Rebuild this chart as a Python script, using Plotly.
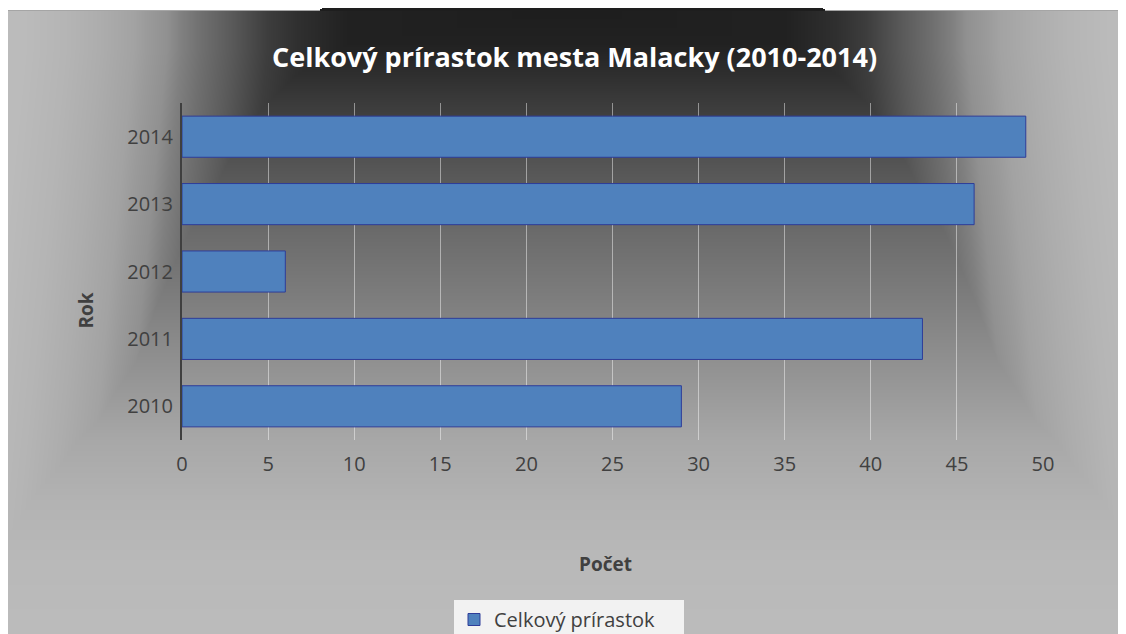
import base64
import struct
import zlib

import numpy as np
import plotly.graph_objects as go

# ---------------- data ----------------
years = ["2010", "2011", "2012", "2013", "2014"]
growth = [29, 43, 6, 46, 49]
series_name = "Celkový prírastok"
title_text = "Celkový prírastok mesta Malacky (2010-2014)"
x_title = "Počet"
y_title = "Rok"
x_ticks = [0, 5, 10, 15, 20, 25, 30, 35, 40, 45, 50]

# ---------------- geometry (screen px; page body has an 8px margin) ----------------
OX, OY = 8, 8
SW, SH = 1126, 634
W, H = SW - OX, SH - OY
PLOT_L, PLOT_R, PLOT_T, PLOT_B = 182, 1043, 103, 440
L, R = PLOT_L - OX, SW - PLOT_R
T, B = PLOT_T - OY, SH - PLOT_B
PW, PH = W - L - R, H - T - B


def px(x):
    return (x - PLOT_L) / PW


def py(y):
    return (PLOT_B - y) / PH


# ---------------- background gradient image ----------------
VY = [11, 45, 100, 165, 235, 300, 370, 440, 500, 560, 634]
VG = [30, 34, 58, 85, 108, 126, 147, 168, 179, 185, 188]
HX = [0, 220, 270, 300, 335, 366, 385, 400, 420, 433, 466, 500, 540, 600]
HG = [30, 34, 48, 62, 90, 112, 128, 145, 155, 163, 173, 181, 187, 188]
CX = 567
K_SHIFT = 0.1

ys = np.arange(H) + 0.5 + OY
xs = np.arange(W) + 0.5 + OX
cv = np.interp(ys, VY, VG)
dx = np.abs(xs[None, :] - CX) - K_SHIFT * np.maximum(ys[:, None] - 50, 0)
ch = np.interp(dx, HX, HG)
img = np.maximum(cv[:, None], ch)
top = 11 - OY
img[:top, :] = 255
img[top - 1, :] = 165
img[:top, 320 - OX:825 - OX] = 30
img[0, 320 - OX:322 - OX] = 255
img[0, 823 - OX:825 - OX] = 255
img = np.clip(img, 0, 255).astype(np.uint8)


def png_gray(a):
    h, w = a.shape
    raw = b"".join(b"\x00" + row.tobytes() for row in a)

    def chunk(t, d):
        c = struct.pack(">I", len(d)) + t + d
        return c + struct.pack(">I", zlib.crc32(t + d) & 0xFFFFFFFF)

    ihdr = struct.pack(">IIBBBBB", w, h, 8, 0, 0, 0, 0)
    return (b"\x89PNG\r\n\x1a\n" + chunk(b"IHDR", ihdr)
            + chunk(b"IDAT", zlib.compress(raw, 9)) + chunk(b"IEND", b""))


bg_src = "data:image/png;base64," + base64.b64encode(png_gray(img)).decode()

# ---------------- figure ----------------
FONT = "Open Sans"
TXT = "#404040"

fig = go.Figure()
fig.add_trace(go.Bar(
    x=growth, y=years, orientation="h", name=series_name,
    marker=dict(color="#4f81bd", line=dict(color="#2e3d99", width=1)),
    showlegend=True,
))

fig.update_layout(
    width=W, height=H,
    margin=dict(l=L, r=R, t=T, b=B, autoexpand=False),
    paper_bgcolor="white",
    plot_bgcolor="rgba(0,0,0,0)",
    bargap=0.39,
    font=dict(family=FONT, color=TXT, size=20),
    images=[dict(
        source=bg_src, xref="paper", yref="paper",
        x=-L / PW, y=1 + T / PH, sizex=W / PW, sizey=H / PH,
        xanchor="left", yanchor="top", sizing="stretch", layer="below",
    )],
    xaxis=dict(
        range=[0, 50], tickvals=x_ticks, showgrid=True,
        gridcolor="rgba(255,255,255,0.45)", gridwidth=1,
        zeroline=False, showline=False,
        ticks="outside", ticklen=6, tickcolor="rgba(0,0,0,0)",
        tickfont=dict(family=FONT, size=20, color=TXT),
    ),
    yaxis=dict(
        type="category", categoryorder="array", categoryarray=years,
        showgrid=False, zeroline=False,
        showline=True, linecolor="#3f3f3f", linewidth=2,
        ticks="outside", ticklen=3, tickcolor="rgba(0,0,0,0)",
        tickfont=dict(family=FONT, size=20, color=TXT),
    ),
    legend=dict(
        orientation="h", x=px(569), xanchor="center", y=py(600), yanchor="top",
        bgcolor="#f2f2f2", font=dict(family=FONT, size=20, color=TXT),
        entrywidth=185, entrywidthmode="pixels",
    ),
    annotations=[
        dict(text=title_text, x=px(574), y=py(57), xref="paper", yref="paper",
             showarrow=False, xanchor="center", yanchor="middle",
             font=dict(family=FONT, size=27, color="white", weight="bold")),
        dict(text=x_title, x=px(605), y=py(564), xref="paper", yref="paper",
             showarrow=False, xanchor="center", yanchor="middle",
             font=dict(family=FONT, size=19, color=TXT, weight="bold")),
        dict(text=y_title, x=px(85.5), y=py(311), xref="paper", yref="paper",
             showarrow=False, xanchor="center", yanchor="middle", textangle=-90,
             font=dict(family=FONT, size=19, color=TXT, weight="bold")),
    ],
)

fig.write_html("out.html")
